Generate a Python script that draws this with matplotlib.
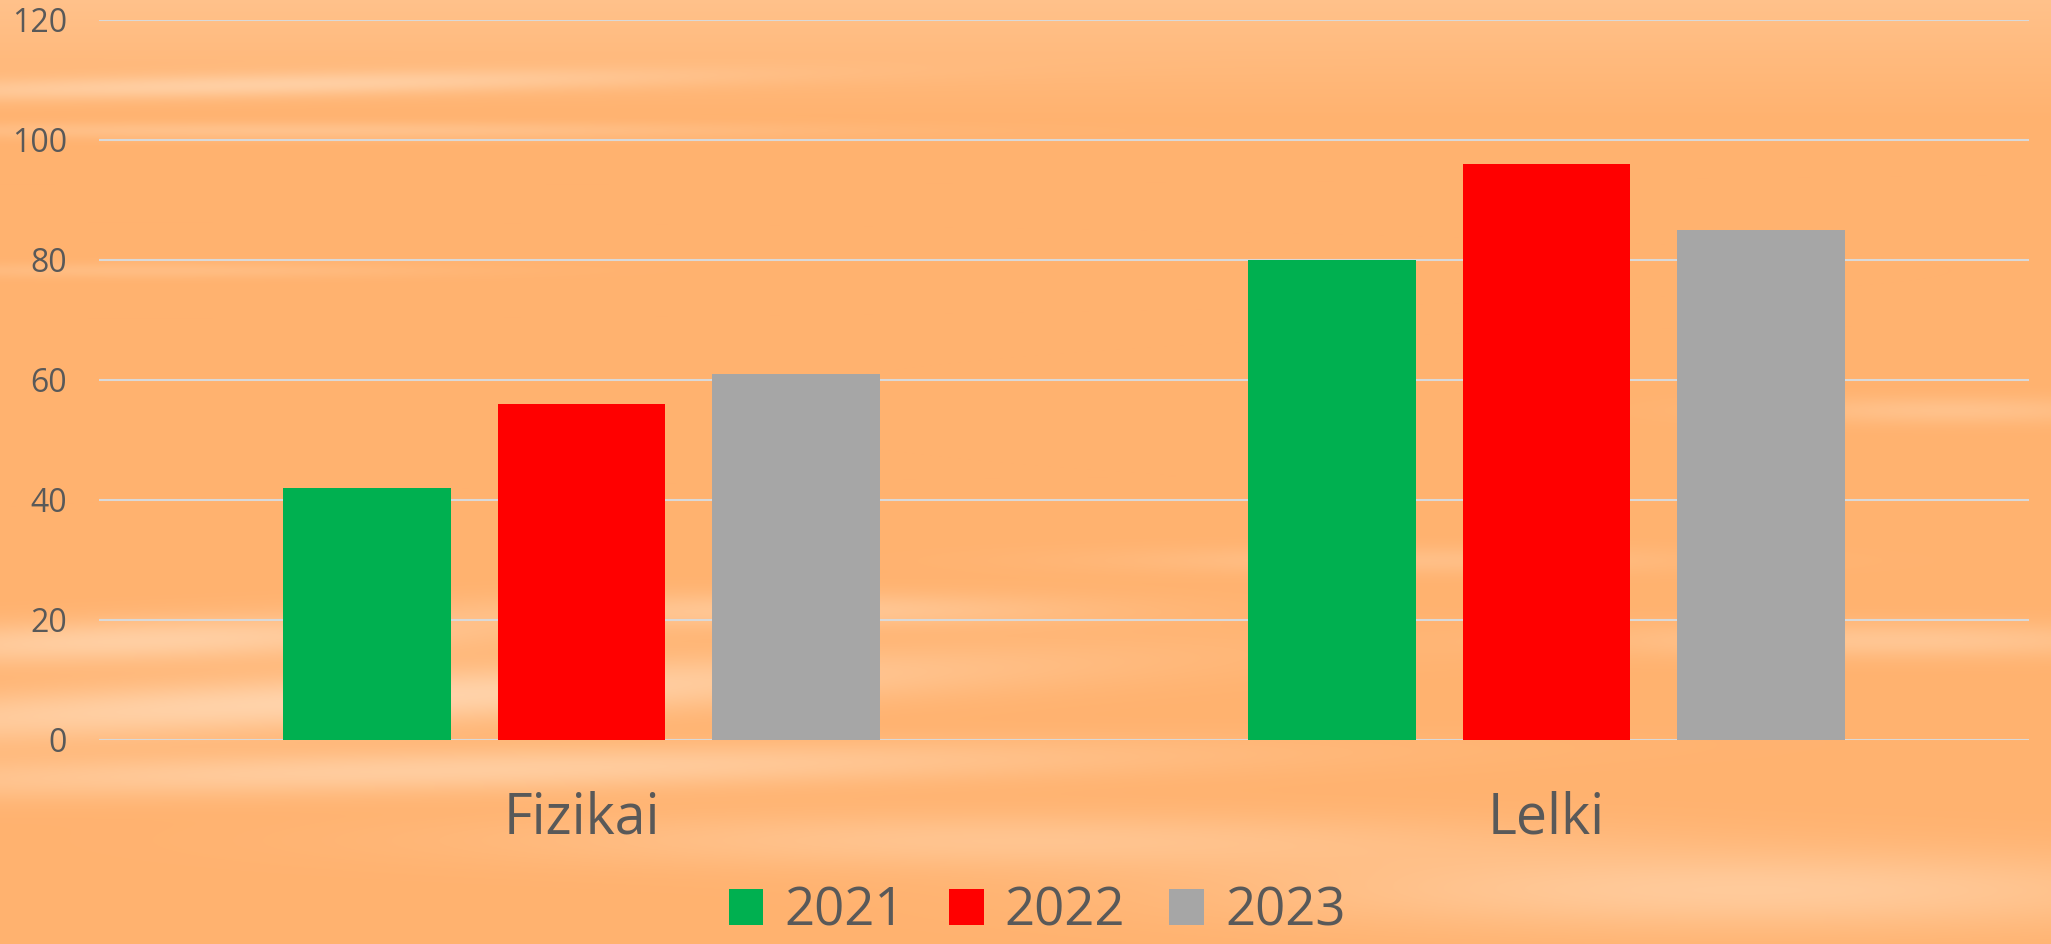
import numpy as np
import matplotlib
matplotlib.use('Agg')
import matplotlib.pyplot as plt

categories = ['Fizikai', 'Lelki']
years = ['2021', '2022', '2023']
values_2021 = [42, 80]
values_2022 = [56, 96]
values_2023 = [61, 85]
colors = ['#00B050', '#FF0000', '#A6A6A6']
yticks = [0, 20, 40, 60, 80, 100, 120]

plt.rcParams['font.family'] = ['Open Sans', 'DejaVu Sans']

W, H = 2051, 944
fig = plt.figure(figsize=(W / 100, H / 100), dpi=100)

# orange sky-like texture behind the chart
yy, xx = np.mgrid[0:H, 0:W].astype(float)
base = np.array([255, 178, 111]) / 255
light = np.array([255, 222, 190]) / 255
top_tint = np.clip(1 - yy / 120, 0, 1) * 0.35
streaks = [
    (85, 250, 12, 450, 0.55, -0.02),
    (130, 300, 9, 500, 0.35, 0.0),
    (270, 150, 8, 300, 0.25, 0.0),
    (640, 150, 22, 350, 0.65, -0.03),
    (700, 350, 28, 650, 0.75, -0.05),
    (770, 450, 22, 700, 0.6, -0.02),
    (610, 800, 18, 300, 0.45, 0.0),
    (640, 1900, 18, 300, 0.45, 0.0),
    (410, 1950, 14, 200, 0.35, 0.0),
    (890, 1750, 40, 500, 0.55, 0.0),
    (840, 1000, 28, 500, 0.4, 0.0),
    (560, 1400, 14, 300, 0.3, 0.0),
]
amt = top_tint.copy()
for yc, xc, sy, sx, s, sl in streaks:
    amt += s * np.exp(-((yy - yc - sl * (xx - xc)) / sy) ** 2 - ((xx - xc) / sx) ** 2)
amt = np.clip(amt, 0, 1)[..., None]
img = base * (1 - amt) + light * amt
bgax = fig.add_axes([0, 0, 1, 1])
bgax.imshow(img, aspect='auto', extent=[0, 1, 0, 1], zorder=0)
bgax.axis('off')

ax = fig.add_axes([99 / W, 1 - 740 / H, (2029 - 99) / W, (740 - 20) / H])
ax.patch.set_alpha(0)

x = np.arange(len(categories))
width = 0.174
step = 0.222
series = [values_2021, values_2022, values_2023]
handles = []
for i, vals in enumerate(series):
    b = ax.bar(x + (i - 1) * step, vals, width, color=colors[i], label=years[i], zorder=3)
    handles.append(b)

ax.set_xlim(-0.5, 1.5)
ax.set_ylim(0, 120)
ax.set_yticks(yticks)
ax.set_xticks(x)
ax.set_xticklabels(categories)
ax.grid(axis='y', color='#D9D9D9', linewidth=1.5, zorder=1)
for sp in ax.spines.values():
    sp.set_visible(False)
ax.tick_params(axis='y', length=0, pad=23, labelsize=23, labelcolor='#595959')
ax.tick_params(axis='x', length=0, pad=36, labelsize=40, labelcolor='#595959')

fig.legend(handles=handles, loc='center', bbox_to_anchor=(1037 / W, 1 - 912 / H),
           ncol=3, frameon=False, fontsize=38, labelcolor='#595959',
           handlelength=0.66, handleheight=0.66, handletextpad=0.4,
           columnspacing=0.83, borderpad=0, borderaxespad=0)

fig.savefig('out.png', dpi=100)
